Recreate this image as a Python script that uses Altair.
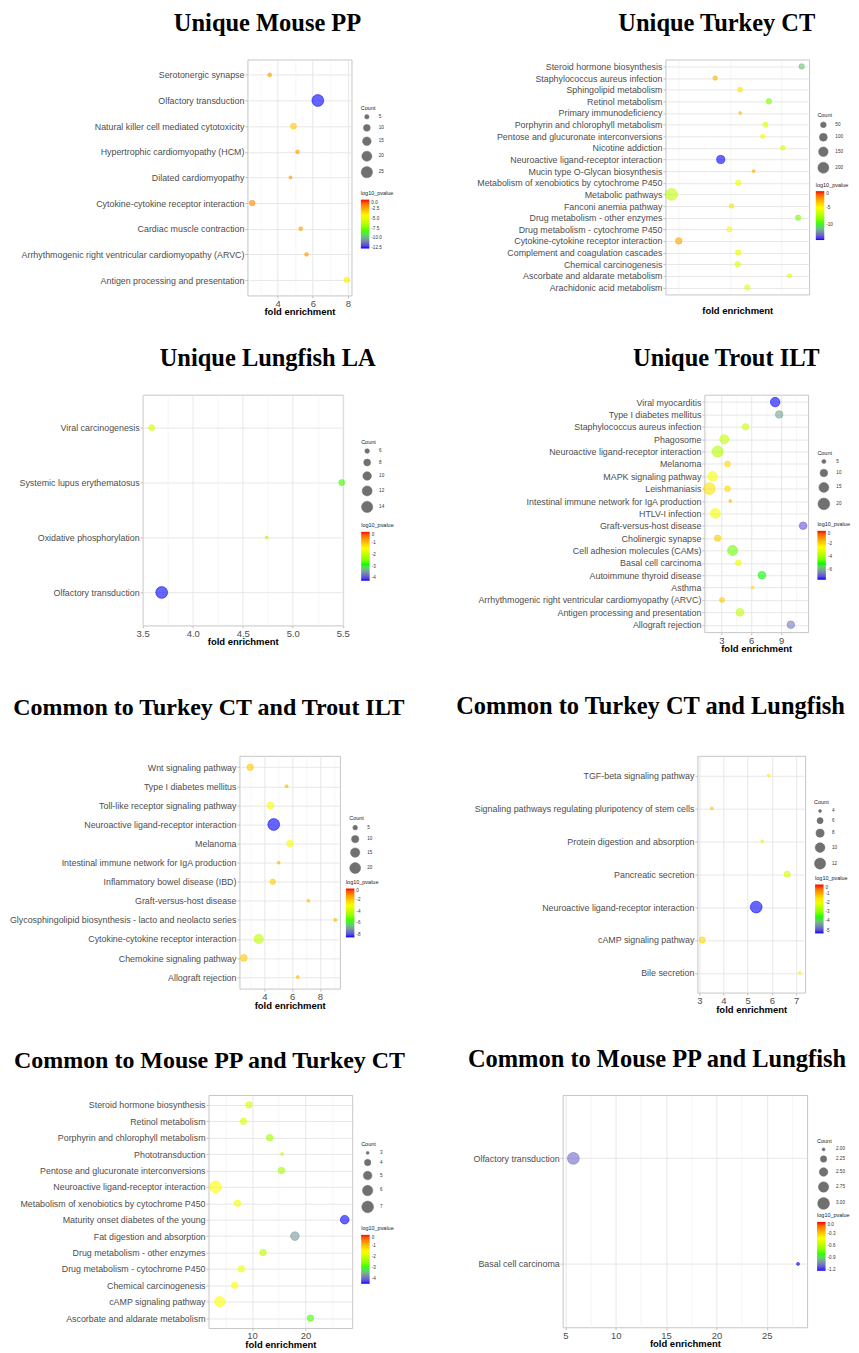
import json
import altair as alt
import pandas as pd

# ---------------- data ----------------
MOUSE_PP_PATHWAYS = ["Serotonergic synapse", "Olfactory transduction", "Natural killer cell mediated cytotoxicity",
                     "Hypertrophic cardiomyopathy (HCM)", "Dilated cardiomyopathy",
                     "Cytokine-cytokine receptor interaction", "Cardiac muscle contraction",
                     "Arrhythmogenic right ventricular cardiomyopathy (ARVC)", "Antigen processing and presentation"]
MOUSE_PP_FOLD = [3.54, 6.29, 4.90, 5.13, 4.73, 2.54, 5.31, 5.64, 7.94]
MOUSE_PP_COUNT = [4, 27, 8, 4, 3, 7, 4, 4, 7]
MOUSE_PP_LOG10P = [-2.0, -12.7, -3.0, -2.0, -2.0, -1.6, -2.0, -2.0, -3.8]

TURKEY_CT_PATHWAYS = ["Steroid hormone biosynthesis", "Staphylococcus aureus infection", "Sphingolipid metabolism",
                      "Retinol metabolism", "Primary immunodeficiency", "Porphyrin and chlorophyll metabolism",
                      "Pentose and glucuronate interconversions", "Nicotine addiction",
                      "Neuroactive ligand-receptor interaction", "Mucin type O-Glycan biosynthesis",
                      "Metabolism of xenobiotics by cytochrome P450", "Metabolic pathways", "Fanconi anemia pathway",
                      "Drug metabolism - other enzymes", "Drug metabolism - cytochrome P450",
                      "Cytokine-cytokine receptor interaction", "Complement and coagulation cascades",
                      "Chemical carcinogenesis", "Ascorbate and aldarate metabolism", "Arachidonic acid metabolism"]
TURKEY_CT_FOLD = [3.90, 2.21, 2.70, 3.26, 2.70, 3.19, 3.14, 3.53, 2.32, 2.96, 2.66, 1.36, 2.53, 3.83, 2.49,
                  1.50, 2.66, 2.65, 3.66, 2.84]
TURKEY_CT_COUNT = [45, 28, 32, 45, 10, 38, 28, 32, 109, 10, 45, 230, 32, 42, 40, 65, 45, 45, 23, 45]
TURKEY_CT_LOG10P = [-11.0, -2.8, -4.0, -8.5, -3.0, -6.0, -5.2, -6.3, -14.5, -2.8, -5.3, -6.8, -4.0, -8.5, -4.6,
                    -2.5, -5.5, -5.8, -5.5, -5.6]

LUNGFISH_LA_PATHWAYS = ["Viral carcinogenesis", "Systemic lupus erythematosus", "Oxidative phosphorylation",
                        "Olfactory transduction"]
LUNGFISH_LA_FOLD = [3.59, 5.49, 4.74, 3.69]
LUNGFISH_LA_COUNT = [7, 7, 5, 15]
LUNGFISH_LA_LOG10P = [-1.8, -2.7, -2.1, -4.2]

TROUT_ILT_PATHWAYS = ["Viral myocarditis", "Type I diabetes mellitus", "Staphylococcus aureus infection", "Phagosome",
                      "Neuroactive ligand-receptor interaction", "Melanoma", "MAPK signaling pathway",
                      "Leishmaniasis", "Leishmaniasis", "Intestinal immune network for IgA production",
                      "HTLV-I infection", "Graft-versus-host disease", "Cholinergic synapse",
                      "Cell adhesion molecules (CAMs)", "Basal cell carcinoma", "Autoimmune thyroid disease",
                      "Asthma", "Arrhythmogenic right ventricular cardiomyopathy (ARVC)",
                      "Antigen processing and presentation", "Allograft rejection"]
TROUT_ILT_FOLD = [8.4, 8.8, 5.43, 3.3, 2.63, 3.63, 2.13, 1.8, 3.63, 3.9, 2.4, 11.2, 2.63, 4.13, 4.7, 7.07,
                  6.13, 3.07, 4.87, 9.97]
TROUT_ILT_COUNT = [14, 10, 8, 13, 18, 7, 14, 20, 7, 4, 15, 10, 8, 15, 7, 10, 4, 6, 10, 10]
TROUT_ILT_LOG10P = [-7.5, -6.0, -3.3, -3.4, -3.7, -2.0, -2.6, -2.1, -2.0, -1.6, -2.7, -6.9, -1.8, -4.5, -2.8,
                    -5.0, -2.0, -1.8, -3.5, -6.5]

TCT_TILT_PATHWAYS = ["Wnt signaling pathway", "Type I diabetes mellitus", "Toll-like receptor signaling pathway",
                     "Neuroactive ligand-receptor interaction", "Melanoma",
                     "Intestinal immune network for IgA production", "Inflammatory bowel disease (IBD)",
                     "Graft-versus-host disease", "Glycosphingolipid biosynthesis - lacto and neolacto series",
                     "Cytokine-cytokine receptor interaction", "Chemokine signaling pathway", "Allograft rejection"]
TCT_TILT_FOLD = [2.97, 5.6, 4.43, 4.67, 5.84, 5.03, 4.6, 7.17, 9.1, 3.59, 2.51, 6.4]
TCT_TILT_COUNT = [8, 3, 9, 23, 8, 3, 6, 3, 3, 15, 9, 3]
TCT_TILT_LOG10P = [-2.0, -1.7, -3.0, -8.5, -3.0, -1.8, -2.0, -1.8, -1.7, -4.0, -2.0, -1.8]

TCT_LLA_PATHWAYS = ["TGF-beta signaling pathway", "Signaling pathways regulating pluripotency of stem cells",
                    "Protein digestion and absorption", "Pancreatic secretion",
                    "Neuroactive ligand-receptor interaction", "cAMP signaling pathway", "Bile secretion"]
TCT_LLA_FOLD = [5.87, 3.52, 5.6, 6.63, 5.35, 3.12, 7.15]
TCT_LLA_COUNT = [4, 4, 4, 6, 13, 6, 4]
TCT_LLA_LOG10P = [-1.6, -1.2, -1.6, -2.2, -5.3, -1.4, -1.7]

MPP_TCT_PATHWAYS = ["Steroid hormone biosynthesis", "Retinol metabolism", "Porphyrin and chlorophyll metabolism",
                    "Phototransduction", "Pentose and glucuronate interconversions",
                    "Neuroactive ligand-receptor interaction", "Metabolism of xenobiotics by cytochrome P450",
                    "Maturity onset diabetes of the young", "Fat digestion and absorption",
                    "Drug metabolism - other enzymes", "Drug metabolism - cytochrome P450",
                    "Chemical carcinogenesis", "cAMP signaling pathway", "Ascorbate and aldarate metabolism"]
MPP_TCT_FOLD = [9.44, 8.4, 13.3, 15.6, 15.5, 3.18, 7.28, 27.3, 18.0, 12.05, 8.03, 6.78, 3.98, 20.9]
MPP_TCT_COUNT = [4, 4, 4, 3, 4, 7, 4, 5, 5, 4, 4, 4, 6, 4]
MPP_TCT_LOG10P = [-1.9, -1.8, -2.3, -2.0, -2.3, -1.5, -1.6, -4.4, -3.6, -2.1, -1.6, -1.5, -1.5, -2.8]

MPP_LLA_PATHWAYS = ["Olfactory transduction", "Basal cell carcinoma"]
MPP_LLA_FOLD = [5.79, 28.1]
MPP_LLA_COUNT = [3, 2]
MPP_LLA_LOG10P = [-1.1, -1.23]

# ---------------- styling / layout ----------------
GRADIENT = ["#0000FF", "#00FF00", "#FFFF00", "#FF0000"]
MINUS = "replace(datum.label, '\u2212', '-')"

LAYOUT = {
    "P1": dict(w=104.3, h=236.5, xdom=[2.27, 8.21], major=[4, 6, 8], minor=[3, 5, 7], xfmt="d",
               pmin=-12.7, pvals=[0, -2.5, -5, -7.5, -10, -12.5], pfmt=".1f", cvals=[5, 10, 15, 20, 25],
               cfmt="d", title="Unique Mouse PP", tfs=24.5, tdx=-32, toff=23.4, legc=(113.7, 46.5),
               legp=(113.7, 132)),
    "P2": dict(w=144, h=235.5, xdom=[1.24, 4.045], major=[2, 3, 4], minor=[1.5, 2.5, 3.5], xfmt="d",
               pmin=-14.5, pvals=[0, -5, -10], pfmt="d", cvals=[50, 100, 150, 200], cfmt="d",
               title="Unique Turkey CT", tfs=24.5, tdx=-20.5, toff=23.4, legc=(152.3, 53.5), legp=(150.7, 123.5)),
    "P3": dict(w=200.6, h=231.3, xdom=[3.5, 5.5], major=[3.5, 4, 4.5, 5, 5.5], minor=[3.75, 4.25, 4.75, 5.25],
               xfmt=".1f", pmin=-4.2, pvals=[0, -1, -2, -3, -4], pfmt="d", cvals=[6, 8, 10, 12, 14], cfmt="d",
               title="Unique Lungfish LA", tfs=24.5, tdx=25, toff=22.9, legc=(219, 45), legp=(219, 129)),
    "P4": dict(w=104, h=238, xdom=[1.3, 11.7], major=[3, 6, 9], minor=[1.5, 4.5, 7.5, 10.5], xfmt="d",
               pmin=-7.5, pvals=[0, -2, -4, -6], pfmt="d", cvals=[5, 10, 15, 20], cfmt="d",
               title="Unique Trout ILT", tfs=24.5, tdx=-30, toff=22.9, legc=(113.3, 56), legp=(113.3, 128)),
    "P5": dict(w=100.7, h=233.3, xdom=[2.2, 9.44], major=[4, 6, 8], minor=[3, 5, 7, 9], xfmt="d",
               pmin=-8.5, pvals=[0, -2, -4, -6, -8], pfmt="d", cvals=[5, 10, 15, 20], cfmt="d",
               title="Common to Turkey CT and Trout ILT", tfs=24, tdx=-81, toff=36.4, legc=(110, 60.5),
               legp=(106.7, 124.5)),
    "P6": dict(w=108, h=237.3, xdom=[2.92, 7.37], major=[3, 4, 5, 6, 7], minor=[3.5, 4.5, 5.5, 6.5], xfmt="d",
               pmin=-5.3, pvals=[0, -1, -2, -3, -4, -5], pfmt="d", cvals=[4, 6, 8, 10, 12], cfmt="d",
               title="Common to Turkey CT and Lungfish", tfs=24.5, tdx=-101, toff=36.4, legc=(117, 44.5),
               legp=(118, 120.5)),
    "P7": dict(w=144, h=233.5, xdom=[1.88, 28.7], major=[10, 20], minor=[5, 15, 25], xfmt="d",
               pmin=-4.4, pvals=[0, -1, -2, -3, -4], pfmt="d", cvals=[3, 4, 5, 6, 7], cfmt="d",
               title="Common to Mouse PP and Turkey CT", tfs=24, tdx=-71, toff=22.2, legc=(153, 47.2),
               legp=(153, 131.7)),
    "P8": dict(w=245, h=232.8, xdom=[4.73, 29.0], major=[5, 10, 15, 20, 25], minor=[7.5, 12.5, 17.5, 22.5, 27.5],
               xfmt="d", pmin=-1.23, pvals=[0, -0.3, -0.6, -0.9, -1.2], pfmt=".1f",
               cvals=[2.0, 2.25, 2.5, 2.75, 3.0], cfmt=".2f", title="Common to Mouse PP and Lungfish", tfs=24.5,
               tdx=-28, toff=22.2, legc=(255, 43.7), legp=(255, 118.7)),
}

# horizontal gaps (left offset, gap between panels) and vertical gaps above each row
ROW_X = [(240, 313.7), (134.7, 361.7), (232, 358), (200.7, 210.6)]
ROW_GAPS = [0, 28.5, 39, 32]

SPACER_DATA = pd.DataFrame({"v": [0]})
INDEP = dict(fill="independent", stroke="independent", size="independent", x="independent", y="independent")


def spacer(w, h):
    return alt.Chart(SPACER_DATA).mark_point(opacity=0, size=0).properties(width=w, height=h)


def panel(names, fold, count, logp, lay):
    df = pd.DataFrame({"pathway": names, "fold": fold, "count": count, "log10_pvalue": logp})
    order = list(dict.fromkeys(names))
    major, minor = lay["major"], lay["minor"]
    is_major = "indexof(%s, datum.value) >= 0" % json.dumps(major)
    fill_scale = alt.Scale(domain=[lay["pmin"], 0], range=GRADIENT, interpolate="lab")
    # ring colour: same gradient (domain nudged by a hair so its hidden legend is not merged with the fill one)
    ring_scale = alt.Scale(domain=[lay["pmin"], 1e-6], range=GRADIENT, interpolate="lab")
    x = alt.X("fold:Q",
              scale=alt.Scale(domain=lay["xdom"], nice=False, zero=False),
              axis=alt.Axis(title="fold enrichment", values=sorted(major + minor), format=lay["xfmt"],
                            labelExpr=f"{is_major} ? datum.label : ''", labelFlush=False, labelOverlap=False,
                            tickOpacity={"condition": {"test": is_major, "value": 1}, "value": 0},
                            gridColor={"condition": {"test": is_major, "value": "#e4e4e4"}, "value": "#f0f0f0"},
                            gridWidth={"condition": {"test": is_major, "value": 0.9}, "value": 0.6}))
    y = alt.Y("pathway:N", sort=order, scale=alt.Scale(padding=0.6),
              axis=alt.Axis(title=None, labelLimit=500, labelOverlap=False))
    fill = alt.Fill("log10_pvalue:Q", scale=fill_scale,
                    legend=alt.Legend(type="gradient", title="log10_pvalue", orient="none",
                                      legendX=lay["legp"][0], legendY=lay["legp"][1], direction="vertical",
                                      values=lay["pvals"], format=lay["pfmt"], labelExpr=MINUS,
                                      gradientLength=49, gradientThickness=8.5, labelOverlap=False))
    stroke = alt.Stroke("log10_pvalue:Q", scale=ring_scale, legend=None)
    size = alt.Size("count:Q",
                    scale=alt.Scale(domain=[min(count), max(count)], range=[9, 140], zero=False),
                    legend=alt.Legend(title="Count", orient="none", legendX=lay["legc"][0],
                                      legendY=lay["legc"][1], direction="vertical", values=lay["cvals"],
                                      format=lay["cfmt"], symbolType="circle", symbolFillColor="#1a1a1a",
                                      symbolStrokeColor="#1a1a1a", symbolOpacity=0.62,
                                      symbolStrokeWidth=0.5))
    return (
        alt.Chart(df)
        .mark_circle(color="#333333", fillOpacity=0.6, strokeOpacity=0.65, strokeWidth=0.8)
        .encode(x=x, y=y, fill=fill, stroke=stroke, size=size)
        .properties(width=lay["w"], height=lay["h"],
                    view=alt.ViewBackground(stroke="#c6c6c6", strokeWidth=1),
                    title=alt.TitleParams(text=lay["title"], fontSize=lay["tfs"], dx=lay["tdx"],
                                          offset=lay["toff"], frame="group", anchor="middle"))
    )


p1 = panel(MOUSE_PP_PATHWAYS, MOUSE_PP_FOLD, MOUSE_PP_COUNT, MOUSE_PP_LOG10P, LAYOUT["P1"])
p2 = panel(TURKEY_CT_PATHWAYS, TURKEY_CT_FOLD, TURKEY_CT_COUNT, TURKEY_CT_LOG10P, LAYOUT["P2"])
p3 = panel(LUNGFISH_LA_PATHWAYS, LUNGFISH_LA_FOLD, LUNGFISH_LA_COUNT, LUNGFISH_LA_LOG10P, LAYOUT["P3"])
p4 = panel(TROUT_ILT_PATHWAYS, TROUT_ILT_FOLD, TROUT_ILT_COUNT, TROUT_ILT_LOG10P, LAYOUT["P4"])
p5 = panel(TCT_TILT_PATHWAYS, TCT_TILT_FOLD, TCT_TILT_COUNT, TCT_TILT_LOG10P, LAYOUT["P5"])
p6 = panel(TCT_LLA_PATHWAYS, TCT_LLA_FOLD, TCT_LLA_COUNT, TCT_LLA_LOG10P, LAYOUT["P6"])
p7 = panel(MPP_TCT_PATHWAYS, MPP_TCT_FOLD, MPP_TCT_COUNT, MPP_TCT_LOG10P, LAYOUT["P7"])
p8 = panel(MPP_LLA_PATHWAYS, MPP_LLA_FOLD, MPP_LLA_COUNT, MPP_LLA_LOG10P, LAYOUT["P8"])


def row(i, left, right):
    lx, gap = ROW_X[i]
    return (
        alt.hconcat(spacer(lx, 1), left, spacer(gap, 1), right, spacing=0, bounds="flush")
        .resolve_scale(**INDEP)
        .resolve_legend(fill="independent", size="independent")
    )


rows = [row(0, p1, p2), row(1, p3, p4), row(2, p5, p6), row(3, p7, p8)]
stack = []
for g, r in zip(ROW_GAPS, rows):
    if g > 0:
        stack.append(spacer(1, g))
    stack.append(r)

chart = (
    alt.vconcat(*stack, spacing=0)
    .resolve_scale(**INDEP)
    .resolve_legend(fill="independent", size="independent")
    .properties(padding=0)
    .configure_view(strokeWidth=0)
    .configure_axis(labelFont="Liberation Sans", titleFont="Liberation Sans", labelColor="#4d4d4d",
                    tickColor="#b3b3b3", tickSize=2.5, tickWidth=0.8, domain=False, grid=True,
                    gridColor="#e4e4e4", gridWidth=0.9)
    .configure_axisY(labelFontSize=8.9, labelPadding=1)
    .configure_axisX(labelFontSize=9.5, labelPadding=0.5, titleFontSize=9.5, titleFontWeight="bold",
                     titleColor="#000000", titlePadding=-1)
    .configure_legend(padding=0, titleFont="Liberation Sans", labelFont="Liberation Sans", titleFontSize=5.5,
                      labelFontSize=4.6, titleFontWeight="normal", titleColor="#1a1a1a", labelColor="#333333",
                      titlePadding=3, rowPadding=2.5, labelOffset=6, gradientStrokeWidth=0)
    .configure_title(font="Liberation Serif", fontSize=24.5, fontWeight="bold", color="#000000",
                     baseline="alphabetic")
)

chart.save("out.html", embed_options={"renderer": "svg", "actions": False})
